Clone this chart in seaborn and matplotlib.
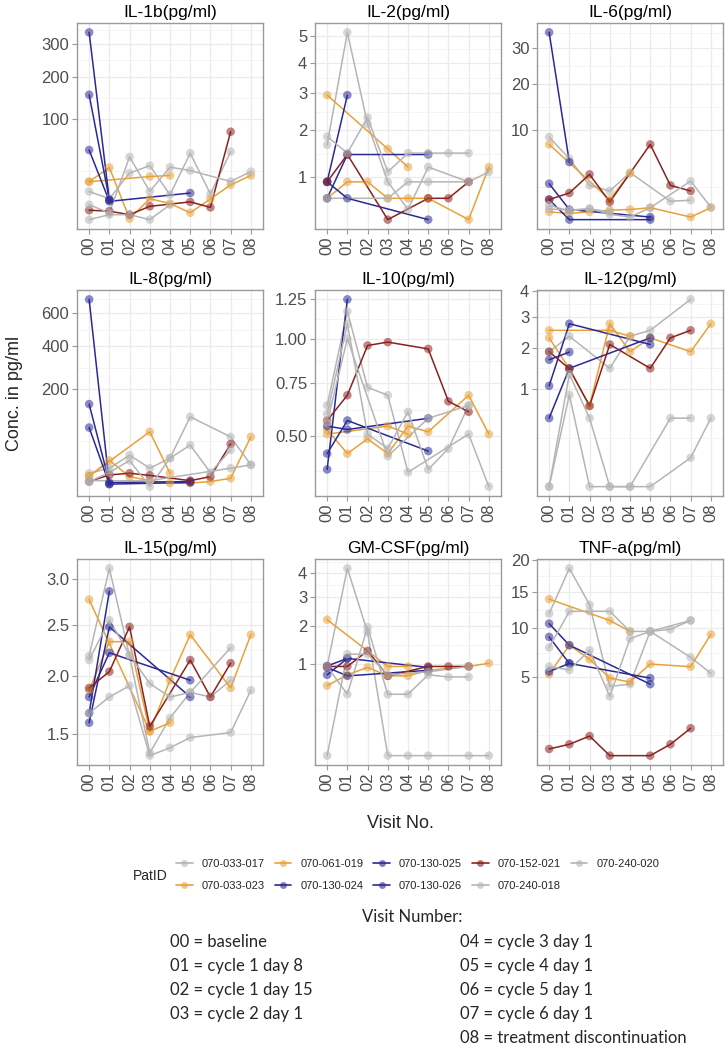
"""
Cytokine concentrations per visit, one panel per cytokine (sqrt y scale)
"""

import numpy as np
import pandas as pd
import matplotlib
matplotlib.use("Agg")
import matplotlib.pyplot as plt
import seaborn as sns
from matplotlib.lines import Line2D
from matplotlib.colors import to_rgba

nan = np.nan

VISITS = ["00", "01", "02", "03", "04", "05", "06", "07", "08"]
PATIENTS = ["070-033-017", "070-033-023", "070-061-019", "070-130-024", "070-130-025",
            "070-130-026", "070-152-021", "070-240-018", "070-240-020"]
PAT_COLORS = ["#B5B5B5", "#E8A13A", "#E8A13A", "#2A2A96", "#2A2A96",
              "#2A2A96", "#8B2020", "#B5B5B5", "#B5B5B5"]

# values per patient, visits 00..08 (nan = no sample)
IL1B = {
    "070-033-017": [8.8, 5.1, 22.6, 30, 7.0, 44.7, 7.4, 46.8, nan],
    "070-033-023": [15.3, nan, nan, 19.5, 20.4, nan, nan, nan, nan],
    "070-061-019": [15.3, 28, 0.1, 5.1, 3.2, 0.8, 5.0, 13, 20.4],
    "070-130-024": [340, 4.5, nan, nan, nan, nan, nan, nan, nan],
    "070-130-025": [49, 4.0, nan, nan, nan, 7.9, nan, nan, nan],
    "070-130-026": [153, 4.7, nan, nan, nan, nan, nan, nan, nan],
    "070-152-021": [1.3, 1.1, 0.5, 2.3, nan, 3.8, 2.0, 77, nan],
    "070-240-018": [2.8, 0.77, 40, 8.8, 28.4, 25, nan, 15.5, 24],
    "070-240-020": [0.05, 0.5, 0.5, 0.05, 2.8, nan, nan, nan, nan],
}
IL2 = {
    "070-033-017": [1.65, 5.13, 2.15, 0.925, 0.52, 1.19, nan, 0.925, 1.1],
    "070-033-023": [2.95, nan, nan, 1.56, 1.19, nan, nan, nan, nan],
    "070-061-019": [0.67, 0.925, 0.925, 0.67, 0.67, 0.67, nan, 0.40, 1.19],
    "070-130-024": [0.925, 2.95, nan, nan, nan, nan, nan, nan, nan],
    "070-130-025": [0.67, 1.44, nan, nan, nan, 1.44, nan, nan, nan],
    "070-130-026": [0.925, 0.67, nan, nan, nan, 0.40, nan, nan, nan],
    "070-152-021": [0.925, 1.44, nan, 0.40, nan, 0.67, 0.67, 0.925, nan],
    "070-240-018": [1.84, 1.47, 2.32, 1.10, 1.47, 1.47, 1.47, 1.47, nan],
    "070-240-020": [0.67, nan, nan, 0.67, 0.925, 0.925, nan, 0.925, nan],
}
IL6 = {
    "070-033-017": [8.85, 5.6, 2.6, 2.12, 3.9, nan, 1.36, 1.43, nan],
    "070-033-023": [7.66, nan, nan, 1.47, 3.8, nan, nan, nan, nan],
    "070-061-019": [0.75, 0.68, 0.75, 0.84, 0.87, 0.97, nan, 0.52, 0.97],
    "070-130-024": [35.1, 5.15, nan, nan, nan, nan, nan, nan, nan],
    "070-130-025": [2.76, 0.87, nan, nan, nan, 0.52, nan, nan, nan],
    "070-130-026": [1.47, 0.42, nan, nan, nan, 0.42, nan, nan, nan],
    "070-152-021": [1.47, 1.96, 3.7, 1.31, nan, 7.66, 2.6, 2.12, nan],
    "070-240-018": [1.11, 0.8, 0.92, 0.64, 0.52, 0.97, nan, 3.0, 1.0],
    "070-240-020": [0.9, 0.85, 0.9, 0.75, nan, nan, nan, nan, nan],
}
IL8 = {
    "070-033-017": [7.5, 11.7, 27, 11.7, 23, 108, nan, 59, 15],
    "070-033-023": [5.5, nan, nan, 70, 7.5, nan, nan, nan, nan],
    "070-061-019": [5.5, 20, 5.2, 3.0, 2.0, 2.0, 2.6, 4.2, 59],
    "070-130-024": [694, 1.6, nan, nan, nan, nan, nan, nan, nan],
    "070-130-025": [80, 1.6, nan, nan, nan, 2.2, nan, nan, nan],
    "070-130-026": [147, 2.2, nan, nan, nan, 2.6, nan, nan, nan],
    "070-152-021": [2.6, 6.3, 7.5, 6.0, nan, 3.0, 5.2, 45, nan],
    "070-240-018": [2.6, 8, 20, 0.85, 23, 43, 8, 35, nan],
    "070-240-020": [3.0, nan, nan, 3.0, nan, nan, nan, 11.7, 15],
}
IL10 = {
    "070-033-017": [0.64, 1.17, 0.73, 0.69, 0.36, nan, nan, 0.51, 0.31],
    "070-033-023": [0.51, nan, nan, 0.545, 0.51, nan, nan, nan, nan],
    "070-061-019": [0.53, 0.43, 0.49, 0.43, 0.545, 0.52, nan, 0.69, 0.51],
    "070-130-024": [0.37, 1.25, nan, nan, nan, nan, nan, nan, nan],
    "070-130-025": [0.43, 0.57, nan, nan, nan, 0.44, nan, nan, nan],
    "070-130-026": [0.545, 0.53, nan, nan, nan, 0.58, nan, nan, nan],
    "070-152-021": [0.57, 0.69, 0.96, 0.98, nan, 0.94, 0.66, 0.61, nan],
    "070-240-018": [0.60, 1.09, 0.51, 0.45, 0.61, 0.37, 0.45, 0.64, nan],
    "070-240-020": [0.56, 1.0, nan, 0.42, nan, 0.58, nan, 0.64, nan],
}
IL12 = {
    "070-033-017": [1.9, 2.36, nan, 1.46, 2.36, 2.55, nan, 3.66, nan],
    "070-033-023": [2.55, nan, nan, 2.55, 2.36, nan, nan, nan, nan],
    "070-061-019": [2.31, 1.45, 0.68, 2.77, 1.9, 2.31, nan, 1.9, 2.77],
    "070-130-024": [1.68, 1.89, nan, nan, nan, nan, nan, nan, nan],
    "070-130-025": [1.06, 2.77, nan, nan, nan, 2.11, nan, nan, nan],
    "070-130-026": [0.49, 1.46, nan, nan, nan, 2.31, nan, nan, nan],
    "070-152-021": [1.9, 1.45, 0.68, 2.11, nan, 1.46, 2.31, 2.55, nan],
    "070-240-018": [0.0, 1.32, 0.49, 0.0, 0.0, nan, 0.49, 0.49, nan],
    "070-240-020": [0.0, 0.88, 0.0, 0.0, 0.0, 0.0, nan, 0.087, 0.49],
}
IL15 = {
    "070-033-017": [2.19, 3.12, 2.19, 1.35, 1.63, 1.85, 1.81, 1.96, nan],
    "070-033-023": [2.77, nan, nan, 1.52, 1.59, nan, nan, nan, nan],
    "070-061-019": [1.87, 2.33, 2.33, 1.52, 1.96, 2.40, nan, 1.89, 2.40],
    "070-130-024": [1.67, 2.86, nan, nan, nan, nan, nan, nan, nan],
    "070-130-025": [1.59, 2.48, nan, nan, nan, 1.81, nan, nan, nan],
    "070-130-026": [1.81, 2.22, nan, nan, nan, 1.96, nan, nan, nan],
    "070-152-021": [1.89, 2.04, 2.48, 1.56, nan, 2.15, 1.81, 2.12, nan],
    "070-240-018": [2.15, 2.55, 2.2, 1.93, 1.81, 1.85, nan, 2.27, nan],
    "070-240-020": [1.67, 1.81, 1.91, 1.33, 1.39, 1.47, nan, 1.51, 1.87],
}
GMCSF = {
    "070-033-017": [0.95, 4.19, 1.82, 0.0, 0.0, 0.0, nan, 0.0, 0.0],
    "070-033-023": [2.21, nan, nan, 0.95, 0.95, nan, nan, nan, nan],
    "070-061-019": [0.585, 0.78, 0.93, 0.76, 0.76, 0.87, nan, 0.95, 1.02],
    "070-130-024": [0.78, 1.13, nan, nan, nan, nan, nan, nan, nan],
    "070-130-025": [0.93, 0.76, nan, nan, nan, 0.87, nan, nan, nan],
    "070-130-026": [0.96, 1.13, nan, nan, nan, 0.93, nan, nan, nan],
    "070-152-021": [0.95, 0.95, 1.31, 0.76, nan, 0.95, 0.95, 0.95, nan],
    "070-240-018": [0.95, 0.45, 1.97, 0.45, 0.45, 0.78, 0.74, 0.74, nan],
    "070-240-020": [0.0, 1.23, 1.23, 0.78, nan, 0.84, nan, 0.95, nan],
}
TNFA = {
    "070-033-017": [11.9, 18.66, 13.1, 4.19, 4.37, 9.65, nan, 6.79, 5.29],
    "070-033-023": [13.9, nan, nan, 11.0, 9.65, nan, nan, nan, nan],
    "070-061-019": [5.2, 8.07, 6.6, 4.87, 4.54, 6.14, nan, 5.89, 9.3],
    "070-130-024": [9.0, 6.2, nan, nan, nan, nan, nan, nan, nan],
    "070-130-025": [10.6, 8.07, nan, nan, nan, 4.37, nan, nan, nan],
    "070-130-026": [5.44, 6.2, nan, nan, nan, 4.87, nan, nan, nan],
    "070-152-021": [0.71, 0.87, 1.19, 0.51, nan, 0.51, 0.87, 1.54, nan],
    "070-240-018": [7.82, 12.2, 12.2, 12.2, 9.65, 9.65, 9.9, 11.0, nan],
    "070-240-020": [5.9, 5.59, 7.53, 3.44, 8.81, 9.65, nan, 11.0, nan],
}

PANEL_TITLES = ["IL-1b(pg/ml)", "IL-2(pg/ml)", "IL-6(pg/ml)",
                "IL-8(pg/ml)", "IL-10(pg/ml)", "IL-12(pg/ml)",
                "IL-15(pg/ml)", "GM-CSF(pg/ml)", "TNF-a(pg/ml)"]
PANEL_DATA = [IL1B, IL2, IL6, IL8, IL10, IL12, IL15, GMCSF, TNFA]
PANEL_TICKS = [[100, 200, 300], [1, 2, 3, 4, 5], [10, 20, 30],
               [200, 400, 600], [0.50, 0.75, 1.00, 1.25], [1, 2, 3, 4],
               [1.5, 2.0, 2.5, 3.0], [1, 2, 3, 4], [5, 10, 15, 20]]
PANEL_FMT = ["{:.0f}", "{:.0f}", "{:.0f}", "{:.0f}", "{:.2f}", "{:.0f}",
             "{:.1f}", "{:.0f}", "{:.0f}"]

VISIT_NOTES_LEFT = ["00 = baseline", "01 = cycle 1 day 8",
                    "02 = cycle 1 day 15", "03 = cycle 2 day 1"]
VISIT_NOTES_RIGHT = ["04 = cycle 3 day 1", "05 = cycle 4 day 1", "06 = cycle 5 day 1",
                     "07 = cycle 6 day 1", "08 = treatment discontinuation"]


def fwd(x):
    x = np.asarray(x, dtype=float)
    return np.sign(x) * np.sqrt(np.abs(x))


def inv(x):
    x = np.asarray(x, dtype=float)
    return np.sign(x) * x ** 2


def to_long(d):
    rows = []
    for pid, vals in d.items():
        for i, v in enumerate(vals):
            if not np.isnan(v):
                rows.append({"PatID": pid, "visit": i, "value": v})
    return pd.DataFrame(rows)


sns.set_theme(style="white")
plt.rcParams["font.family"] = ["Liberation Sans", "DejaVu Sans"]

palette = dict(zip(PATIENTS, PAT_COLORS))

W, H = 728, 1050
fig = plt.figure(figsize=(W / 100, H / 100), dpi=100)

col_left = [77, 315, 537]
row_top = [23, 290, 559]
pw, ph = 186, 206

for k, (title, data) in enumerate(zip(PANEL_TITLES, PANEL_DATA)):
    r, c = divmod(k, 3)
    ax = fig.add_axes([col_left[c] / W, 1 - (row_top[r] + ph) / H, pw / W, ph / H])
    df = to_long(data)
    order = [p for p in PATIENTS if p in set(df["PatID"])]

    ax.set_yscale("function", functions=(fwd, inv))
    sns.lineplot(data=df, x="visit", y="value", hue="PatID", hue_order=order,
                 palette=palette, estimator=None, sort=True, legend=False,
                 linewidth=1.1, ax=ax, zorder=3)
    sns.scatterplot(data=df, x="visit", y="value", hue="PatID", hue_order=order,
                    palette=palette, alpha=0.55, s=38, linewidth=0, legend=False,
                    ax=ax, zorder=4)

    # limits: 5% expansion in sqrt space, like ggplot
    t = fwd(df["value"].values)
    lo, hi = t.min(), t.max()
    pad = (hi - lo) * 0.05
    ax.set_ylim(inv(lo - pad), inv(hi + pad))
    ax.set_xlim(-0.6, 8.6)

    ticks = PANEL_TICKS[k]
    ax.set_yticks(ticks)
    ax.set_yticklabels([PANEL_FMT[k].format(v) for v in ticks])
    step = ticks[1] - ticks[0]
    ext = [ticks[0] - step] + list(ticks) + [ticks[-1] + step]
    se = fwd(np.clip(ext, 0, None))
    minors = inv((se[:-1] + se[1:]) / 2)
    ylo, yhi = ax.get_ylim()
    ax.set_yticks([m for m in minors if ylo < m < yhi], minor=True)

    ax.set_xticks(range(len(VISITS)))
    ax.set_xticklabels(VISITS, rotation=90)

    ax.grid(True, which="major", color="#EBEBEB", linewidth=0.9, zorder=0)
    ax.grid(True, which="minor", axis="y", color="#F2F2F2", linewidth=0.6, zorder=0)
    ax.set_axisbelow(True)
    ax.tick_params(axis="both", which="major", length=3.5, width=0.8, color="#9A9A9A",
                   labelsize=12, labelcolor="#4D4D4D", pad=2, left=True, bottom=True)
    ax.tick_params(axis="y", which="minor", length=0)
    for s in ax.spines.values():
        s.set_color("#9A9A9A")
        s.set_linewidth(1.0)
    ax.set_xlabel("")
    ax.set_ylabel("")
    ax.set_title(title, fontsize=12.5, pad=4, color="black")

fig.text(15 / W, 1 - 393 / H, "Conc. in pg/ml", rotation=90, ha="center", va="center",
         fontsize=13)
fig.text(400 / W, 1 - 823 / H, "Visit No.", ha="center", va="center", fontsize=13)

# legend
handles = [Line2D([], [], color=col, marker="o", markersize=5, linewidth=1.2,
                  markeredgewidth=0, markerfacecolor=to_rgba(col, 0.6))
           for col in PAT_COLORS]
fig.legend(handles, PATIENTS, ncol=5, loc="center left",
           bbox_to_anchor=(176 / W, 1 - 875 / H), frameon=False, fontsize=8,
           borderpad=0, borderaxespad=0, handlelength=1.5, handletextpad=0.8,
           columnspacing=0.9, labelspacing=1.05)
fig.text(150 / W, 1 - 876 / H, "PatID", ha="center", va="center", fontsize=10)

note_font = ["Lato", "DejaVu Sans"]
fig.text(412 / W, 1 - 917 / H, "Visit Number:", ha="center", va="center",
         fontsize=12, family=note_font)
for i, s in enumerate(VISIT_NOTES_LEFT):
    fig.text(170 / W, 1 - (942 + 24 * i) / H, s, ha="left", va="center",
             fontsize=12, family=note_font)
for i, s in enumerate(VISIT_NOTES_RIGHT):
    fig.text(460 / W, 1 - (942 + 24 * i) / H, s, ha="left", va="center",
             fontsize=12, family=note_font)

fig.savefig("out.png", dpi=100)
plt.close(fig)
